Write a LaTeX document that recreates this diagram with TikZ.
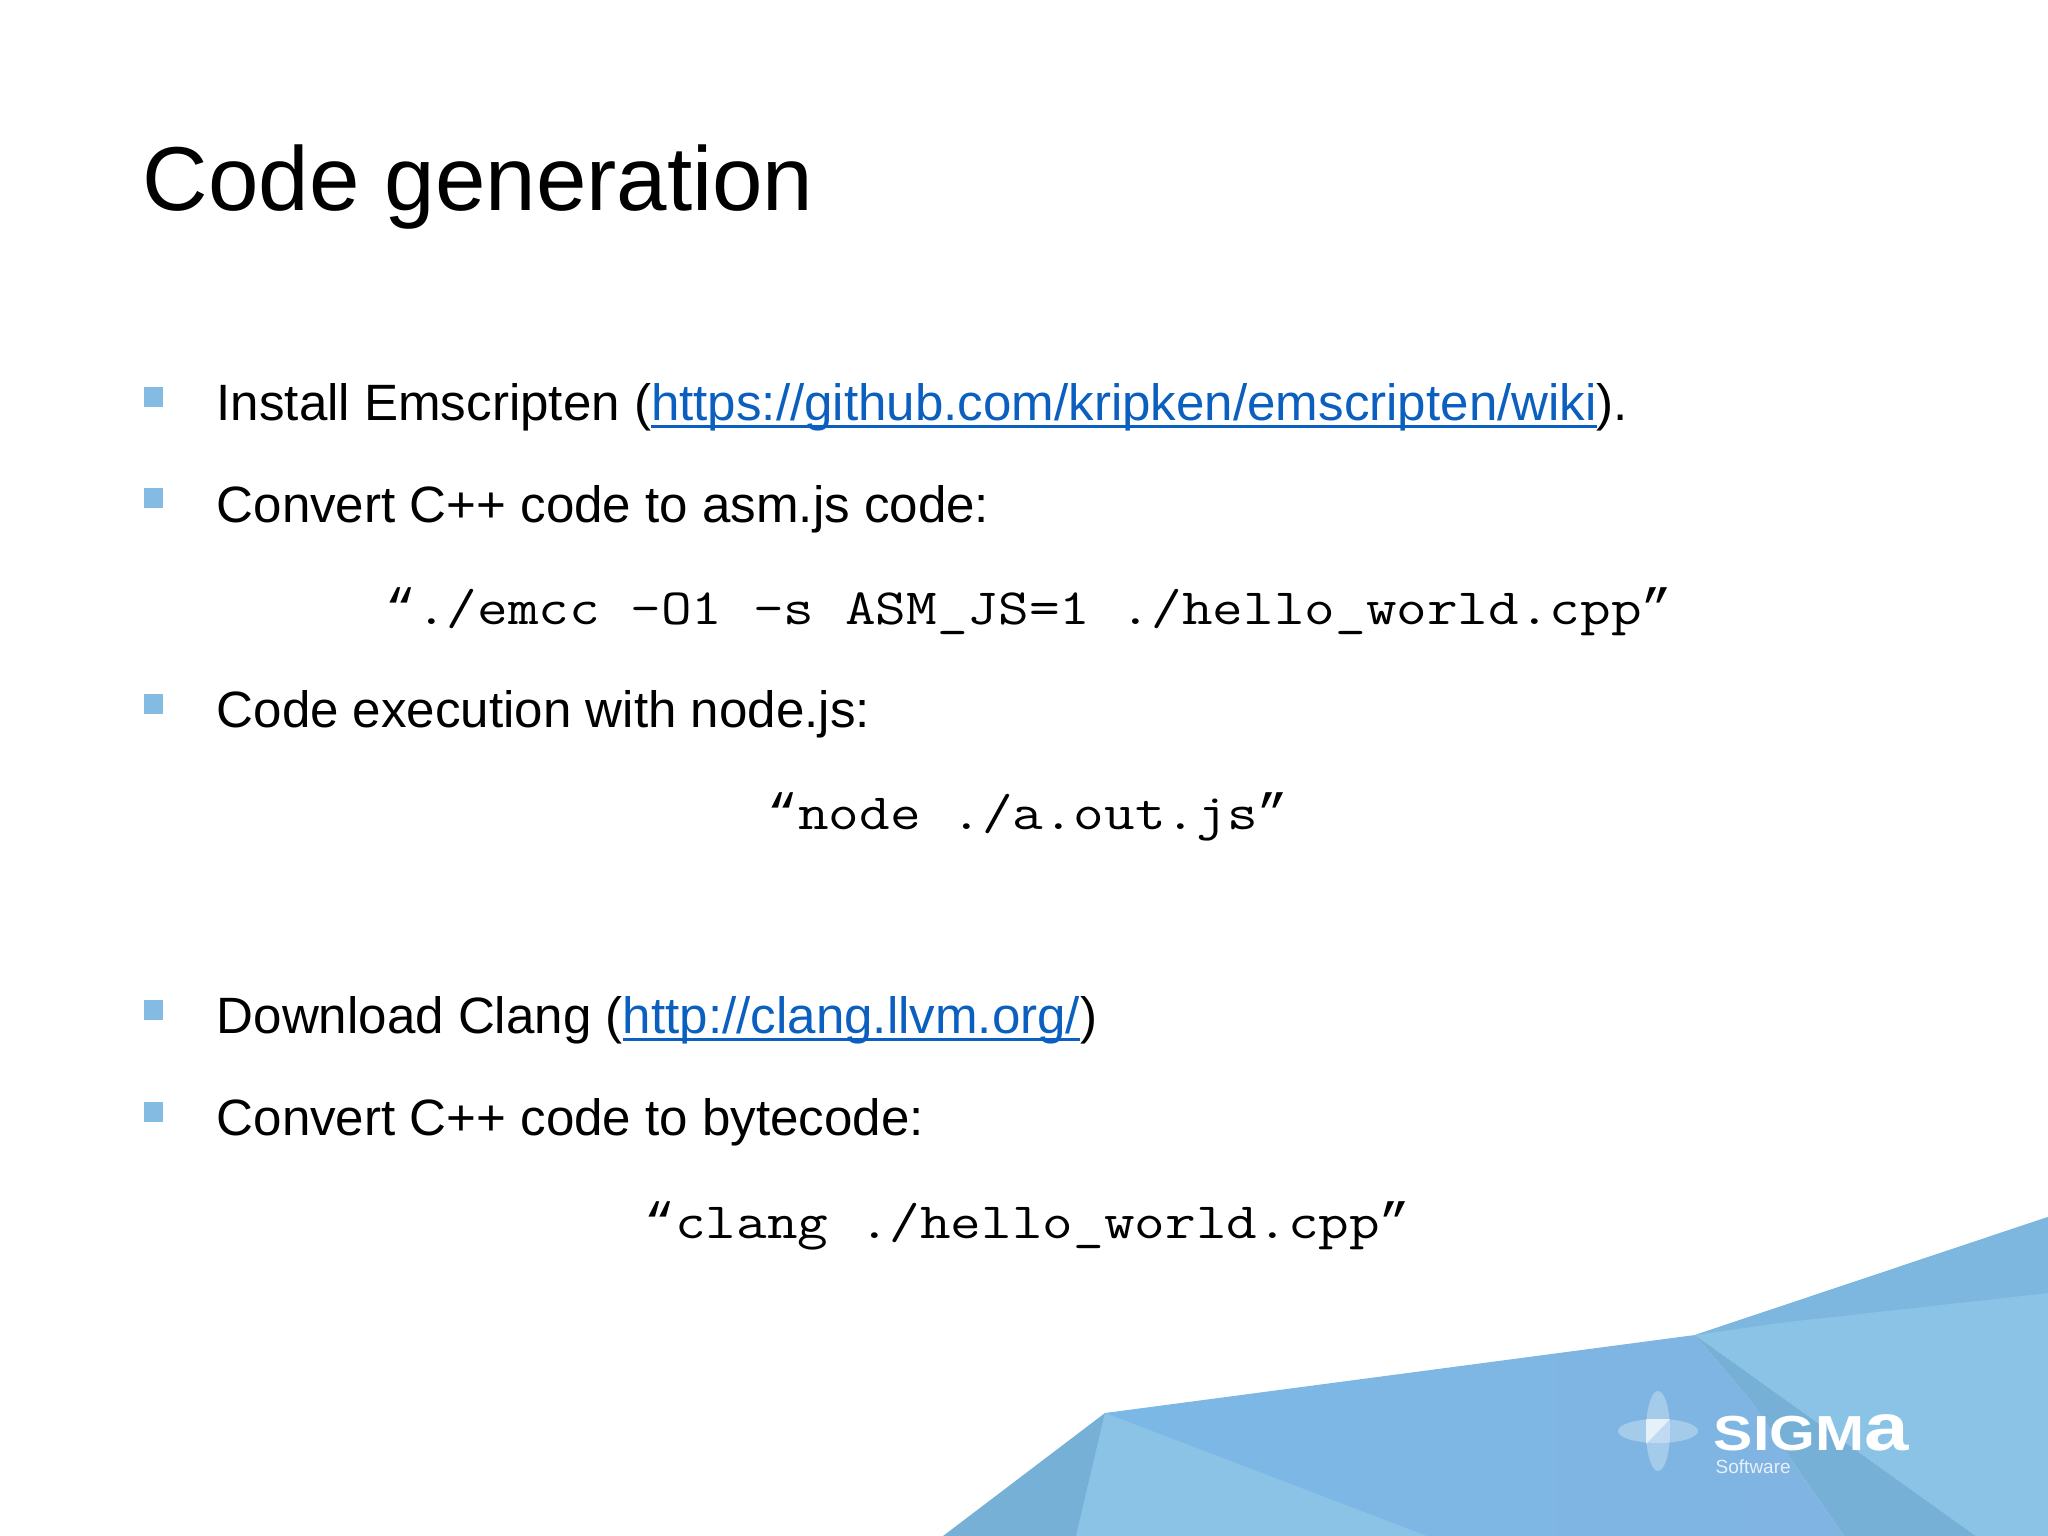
\documentclass[tikz,border=0pt]{standalone}
\usepackage{fontspec}
\setmainfont{Liberation Sans}
\setmonofont[FakeStretch=1.17]{Latin Modern Mono}
\newfontfamily\quotefont{Liberation Mono}
\definecolor{linkblue}{HTML}{0B5FBE}
\definecolor{bulletblue}{HTML}{83BBE3}
\definecolor{wavemid}{HTML}{80B4E2}
\definecolor{wavebright}{HTML}{7CB8E6}
\definecolor{waveedge}{HTML}{76B0D6}
\definecolor{wavelight}{HTML}{8AC3E6}
\definecolor{wavetop}{HTML}{7DB6DE}
\newcommand{\linktext}[1]{\begingroup\color{linkblue}\sbox0{#1}\rlap{\rule[-2.3pt]{\wd0}{0.75pt}}\box0\endgroup}
\newcommand{\openq}{{\quotefont “}}
\newcommand{\closeq}{{\quotefont ”}}
\tikzset{
    titletext/.style={anchor=base west, inner sep=0, font=\fontsize{25.8}{30}\selectfont},
    bodytext/.style={anchor=base west, inner sep=0, font=\fontsize{14.53}{17}\selectfont},
    codetext/.style={anchor=base west, inner sep=0, font=\fontsize{14.46}{17}\selectfont\ttfamily},
    bulletbox/.style={fill=bulletblue, inner sep=0, minimum width=0.19cm, minimum height=0.2cm}
}
\begin{document}
\begin{tikzpicture}[x=0.01cm, y=-0.01cm]

        \useasboundingbox (0,0) rectangle (2048,1536);

        % wave in the corner
        \shade [left color=wavebright, right color=wavemid] (1105,1413) -- (1695,1335) -- (1750,1400) -- (1844,1536) -- (1076,1536) -- cycle;
        \fill [wavelight] (1105,1413) -- (1427,1536) -- (1076,1536) -- cycle;
        \fill [waveedge] (943,1536) -- (1105,1413) -- (1076,1536) -- cycle;
        \fill [wavelight] (1695,1335) -- (2048,1217) -- (2048,1536) -- (1976,1536) -- cycle;
        \fill [wavetop] (1695,1335) -- (2048,1217) -- (2048,1293) -- (1778,1323) -- cycle;
        \fill [waveedge] (1695,1335) -- (1976,1536) -- (1844,1536) -- (1750,1400) -- cycle;

        % logo
        \fill [white, opacity=0.3] (1658,1431) ellipse (12 and 40);
        \fill [white, opacity=0.3] (1658,1431) ellipse (40 and 12);
        \fill [white, opacity=0.6] (1646,1419) -- (1670,1419) -- (1646,1444) -- cycle;
        \node (logoname) [anchor=base west, inner sep=0, text=white, font=\fontsize{14}{14}\selectfont\bfseries, xscale=1.196] at (1713,1450) {SIGM{\fontsize{19}{19}\selectfont a}};
        \node (logosub) [anchor=base west, inner sep=0, text=white, opacity=0.8, font=\fontsize{5.4}{6}\selectfont] at (1715,1473) {Software};

        % title
        \node (title) [titletext] at (142,210) {Code generation};

        % Emscripten part
        \node (bulletinstall) [bulletbox] at (153.5,397) {};
        \node (install) [bodytext] at (216,420) {Install Emscripten (\linktext{https://github.com/kripken/emscripten/wiki}).};
        \node (bulletconvert) [bulletbox] at (153.5,498) {};
        \node (convert) [bodytext] at (216,522) {Convert C++ code to asm.js code:};
        \node (emcc) [codetext] at (385,624) {\openq ./emcc -O1 -s ASM\_JS=1 ./hello\_world.cpp\closeq};
        \node (bulletnode) [bulletbox] at (153.5,704) {};
        \node (execution) [bodytext] at (216,727) {Code execution with node.js:};
        \node (run) [codetext] at (767,829) {\openq node ./a.out.js\closeq};

        % Clang part
        \node (bulletclang) [bulletbox] at (153.5,1010) {};
        \node (download) [bodytext] at (216,1033) {Download Clang (\linktext{http://clang.llvm.org/})};
        \node (bulletbytecode) [bulletbox] at (153.5,1112) {};
        \node (bytecode) [bodytext] at (216,1135) {Convert C++ code to bytecode:};
        \node (clang) [codetext] at (644,1238) {\openq clang ./hello\_world.cpp\closeq};

\end{tikzpicture}
\end{document}
